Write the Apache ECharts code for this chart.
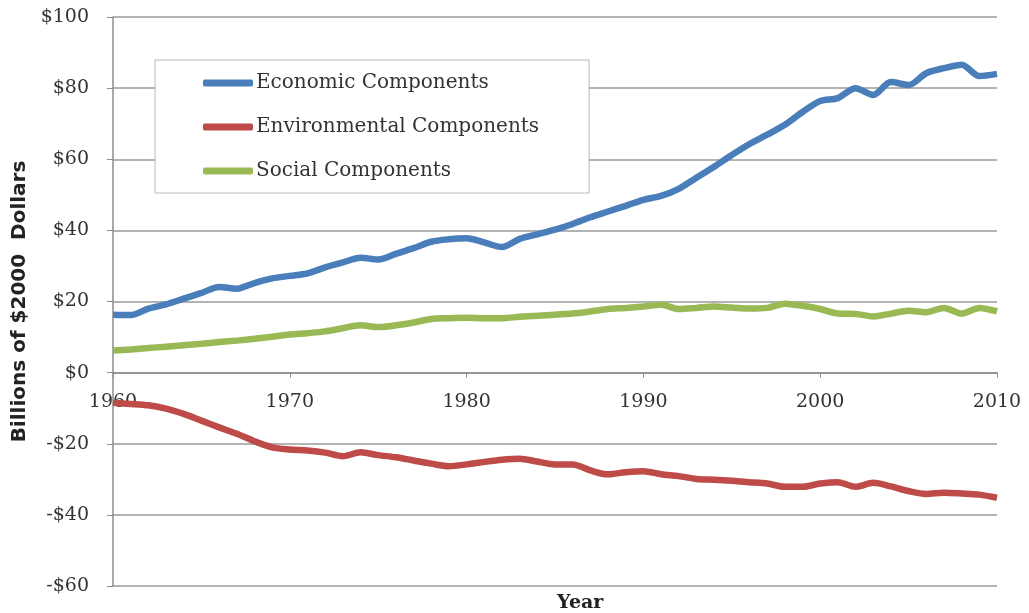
<!DOCTYPE html>
<html>
<head>
<meta charset="utf-8">
<script src="https://cdn.jsdelivr.net/npm/echarts@6/dist/echarts.min.js"></script>
<style>
html,body{margin:0;padding:0;background:#fff;}
#chart{width:1029px;height:613px;}
</style>
</head>
<body>
<div id="chart"></div>
<script>
const years = [1960,1961,1962,1963,1964,1965,1966,1967,1968,1969,1970,1971,1972,1973,1974,1975,1976,1977,1978,1979,1980,1981,1982,1983,1984,1985,1986,1987,1988,1989,1990,1991,1992,1993,1994,1995,1996,1997,1998,1999,2000,2001,2002,2003,2004,2005,2006,2007,2008,2009,2010];

const economic = [16.3,16.2,18.0,19.2,20.8,22.4,24.1,23.6,25.2,26.5,27.2,27.9,29.6,31.0,32.3,31.8,33.4,35.0,36.8,37.5,37.8,36.6,35.3,37.6,38.9,40.2,41.8,43.7,45.3,46.9,48.6,49.7,51.7,54.8,57.9,61.2,64.3,66.9,69.7,73.3,76.4,77.2,80.0,78.1,81.7,80.9,84.2,85.6,86.6,83.4,84.0];

const environmental = [-8.5,-8.8,-9.2,-10.1,-11.6,-13.5,-15.4,-17.2,-19.3,-21.0,-21.6,-21.9,-22.5,-23.5,-22.4,-23.2,-23.8,-24.7,-25.6,-26.3,-25.8,-25.1,-24.5,-24.2,-25.0,-25.8,-25.8,-27.5,-28.6,-28.0,-27.7,-28.6,-29.1,-29.9,-30.1,-30.4,-30.8,-31.2,-32.1,-32.1,-31.2,-30.8,-32.1,-31.0,-32.0,-33.3,-34.1,-33.8,-34.0,-34.3,-35.2];

const social = [6.2,6.5,6.9,7.3,7.7,8.1,8.6,9.0,9.5,10.1,10.7,11.1,11.6,12.5,13.3,12.8,13.3,14.1,15.1,15.3,15.4,15.3,15.3,15.7,16.0,16.3,16.6,17.2,17.9,18.2,18.6,19.1,17.9,18.2,18.6,18.3,18.0,18.2,19.4,18.8,17.9,16.6,16.5,15.8,16.6,17.4,17.0,18.2,16.6,18.2,17.2];

const yTicks = [-60,-40,-20,0,20,40,60,80,100];
const seriesNames = ['Economic Components','Environmental Components','Social Components'];
const seriesColors = ['#4A7EBB','#BE4B48','#98B954'];

const toPairs = arr => years.map((y,i)=>[y,arr[i]]);
const fmt = v => (v<0 ? '-$' + Math.abs(v) : '$' + v);

const W = 1029, H = 613;
const gridTop = 17, gridBottom = 27;
const yMin = yTicks[0], yMax = yTicks[yTicks.length-1];
// move the x axis line up to where y = 0 sits in the plot
const zeroOffset = -((H - gridTop - gridBottom) * (0 - yMin) / (yMax - yMin));

const chart = echarts.init(document.getElementById('chart'), null, {renderer:'canvas'});
const serifFont = 'DejaVu Serif';

chart.setOption({
  animation:false,
  backgroundColor:'#fff',
  grid:{left:113, right:32, top:gridTop, bottom:gridBottom, containLabel:false, outerBoundsMode:'none'},
  legend:{
    orient:'vertical',
    left:155, top:60,
    padding:[13,50,12,48],
    itemGap:24,
    itemWidth:50, itemHeight:7,
    icon:'roundRect',
    borderColor:'#b8b8b8', borderWidth:1,
    backgroundColor:'#fff',
    textStyle:{fontFamily:serifFont, fontSize:20, color:'#333', lineHeight:20, padding:[0,0,0,-2]},
    data:seriesNames
  },
  graphic:[
    {type:'text', left:557, top:594, style:{text:'Year', x:0, y:0, fill:'#222', font:'bold 19px "DejaVu Serif"', textAlign:'center'}}
  ],
  xAxis:{
    type:'value', min:1960, max:2010, interval:10,
    position:'bottom', offset:zeroOffset,
    axisLine:{show:true, onZero:false, lineStyle:{color:'#8c8c8c', width:1.5}},
    axisTick:{show:true, length:5, lineStyle:{color:'#8c8c8c'}},
    axisLabel:{fontFamily:serifFont, fontSize:19, color:'#333', margin:20, formatter:v=>String(v)},
    splitLine:{show:false}
  },
  yAxis:{
    type:'value', min:yMin, max:yMax, interval:20,
    name:'Billions of $2000  Dollars', nameLocation:'middle', nameGap:83, nameRotate:90,
    nameTextStyle:{fontFamily:'DejaVu Sans', fontWeight:'bold', fontSize:20, color:'#222'},
    axisLine:{show:true, onZero:false, lineStyle:{color:'#8c8c8c', width:1.5}},
    axisTick:{show:true, length:6, lineStyle:{color:'#8c8c8c'}},
    axisLabel:{fontFamily:serifFont, fontSize:19, color:'#333', margin:24, formatter:fmt},
    splitLine:{show:true, lineStyle:{color:'#9a9a9a', width:1.5}}
  },
  series:[
    {name:seriesNames[0], type:'line', data:toPairs(economic), showSymbol:false, smooth:0.3,
     lineStyle:{width:6.5, color:seriesColors[0]}, itemStyle:{color:seriesColors[0]}},
    {name:seriesNames[1], type:'line', data:toPairs(environmental), showSymbol:false, smooth:0.3,
     lineStyle:{width:6.5, color:seriesColors[1]}, itemStyle:{color:seriesColors[1]}},
    {name:seriesNames[2], type:'line', data:toPairs(social), showSymbol:false, smooth:0.3,
     lineStyle:{width:6.5, color:seriesColors[2]}, itemStyle:{color:seriesColors[2]}}
  ]
});
</script>
</body>
</html>
